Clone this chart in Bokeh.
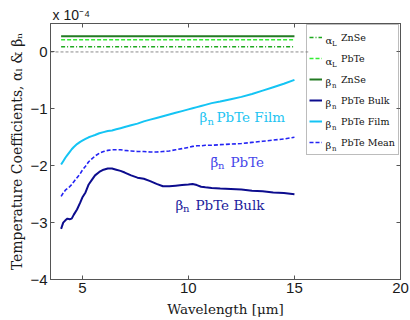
import math
from bokeh.plotting import figure
from bokeh.models import Range1d, LinearAxis, FixedTicker, Span, Legend, LegendItem, Label, BoxAnnotation
from bokeh.embed import file_html
from bokeh.resources import INLINE

# ---------------- data (units of 1e-4 per K) ----------------
wavelength = [4.0, 4.1, 4.2, 4.3, 4.4, 4.5, 4.6, 4.75, 4.9, 5.0, 5.15, 5.3, 5.45, 5.6, 5.8,
              6.0, 6.2, 6.4, 6.6, 6.8, 7.0, 7.3, 7.6, 7.9, 8.2, 8.5, 8.8, 9.1, 9.4, 9.7,
              10.0, 10.2, 10.4, 10.6, 10.8, 11.1, 11.5, 12.0, 12.5, 13.0, 13.5, 14.0, 14.5, 15.0]
beta_bulk = [-3.11, -3.00, -2.96, -2.93, -2.94, -2.93, -2.86, -2.77, -2.65, -2.56, -2.47, -2.33,
             -2.25, -2.17, -2.11, -2.07, -2.05, -2.05, -2.07, -2.09, -2.12, -2.17, -2.21, -2.23,
             -2.27, -2.32, -2.36, -2.36, -2.35, -2.34, -2.33, -2.32, -2.34, -2.37, -2.38, -2.39,
             -2.40, -2.41, -2.42, -2.44, -2.45, -2.47, -2.48, -2.50]
beta_film = [-1.98, -1.92, -1.86, -1.81, -1.76, -1.71, -1.67, -1.62, -1.58, -1.56, -1.53, -1.50,
             -1.48, -1.46, -1.43, -1.41, -1.39, -1.38, -1.36, -1.34, -1.32, -1.29, -1.26, -1.22,
             -1.19, -1.16, -1.13, -1.10, -1.07, -1.04, -1.01, -0.99, -0.97, -0.95, -0.93, -0.90,
             -0.87, -0.83, -0.79, -0.74, -0.68, -0.62, -0.56, -0.49]
beta_mean = [-2.54, -2.48, -2.43, -2.40, -2.37, -2.33, -2.28, -2.21, -2.14, -2.08, -2.01, -1.93,
             -1.88, -1.83, -1.78, -1.75, -1.73, -1.72, -1.72, -1.72, -1.73, -1.74, -1.75, -1.75,
             -1.76, -1.76, -1.75, -1.74, -1.72, -1.70, -1.68, -1.66, -1.65, -1.65, -1.64, -1.64,
             -1.63, -1.62, -1.61, -1.59, -1.57, -1.55, -1.53, -1.50]
const_wavelength = [4.0, 15.0]
alpha_znse = [0.09, 0.09]
alpha_pbte = [0.215, 0.215]
beta_znse = [0.277, 0.277]

x_ticks = [5, 10, 15, 20]
y_ticks = [-4, -3, -2, -1, 0]

legend_names = ["ZnSe", "PbTe", "ZnSe", "PbTe Bulk", "PbTe Film", "PbTe Mean"]
legend_greek = ["\u03b1", "\u03b1", "\u03b2", "\u03b2", "\u03b2", "\u03b2"]
legend_subs = ["L", "L", "n", "n", "n", "n"]

# ---------------- layout ----------------
X0, X1, Y0, Y1 = 3.5, 20.0, -4.0, 0.5
FL, FT, FW, FH = 50, 23, 350, 256


def px2x(px):
    return X0 + (px - FL) * (X1 - X0) / FW


def py2y(py):
    return Y1 - (py - FT) * (Y1 - Y0) / FH


AX = "#555555"
SERIF = "DejaVu Serif"
SANS = "Liberation Sans"

p = figure(width=410, height=320, output_backend="svg", toolbar_location=None,
           x_range=Range1d(X0, X1), y_range=Range1d(Y0, Y1),
           min_border_left=FL, min_border_right=410 - FL - FW, min_border_top=FT,
           min_border_bottom=320 - FT - FH, background_fill_color="white",
           border_fill_color="white")
p.xgrid.visible = False
p.ygrid.visible = False
p.outline_line_color = AX

p.title.text = "x 10\u207b\u2074"
p.title.text_font = SANS
p.title.text_font_size = "14px"
p.title.text_font_style = "normal"
p.title.text_color = "#1a1a1a"
p.title.align = "left"
p.title.offset = 2
p.title.standoff = 2


def style_axis(ax, ticks, show_labels):
    ax.ticker = FixedTicker(ticks=ticks)
    ax.major_tick_in = 4
    ax.major_tick_out = 0
    ax.minor_tick_line_color = None
    ax.axis_line_color = AX
    ax.major_tick_line_color = AX
    ax.major_label_text_font = SANS
    if show_labels:
        ax.major_label_text_color = "#1a1a1a"
        ax.major_label_text_font_size = "15px"
        ax.major_label_standoff = 3
    else:
        ax.major_label_text_color = None
        ax.major_label_text_font_size = "1px"
        ax.major_label_standoff = 0


style_axis(p.xaxis[0], x_ticks, True)
style_axis(p.yaxis[0], y_ticks, True)
p.xaxis.axis_label = "Wavelength [\u03bcm]"
p.xaxis.axis_label_text_font = SERIF
p.xaxis.axis_label_text_font_size = "13.5px"
p.xaxis.axis_label_text_font_style = "normal"
p.xaxis.axis_label_text_color = "#1a1a1a"
p.xaxis.axis_label_standoff = 5

p.yaxis.axis_label = "Temperature Coefficients, \u03b1\u2097 & \u03b2\u2099"
p.yaxis.axis_label_text_font = SERIF
p.yaxis.axis_label_text_font_size = "14px"
p.yaxis.axis_label_text_font_style = "normal"
p.yaxis.axis_label_text_color = "#1a1a1a"
p.yaxis.axis_label_standoff = 2

top_ax = LinearAxis()
right_ax = LinearAxis()
style_axis(top_ax, x_ticks, False)
style_axis(right_ax, y_ticks, False)
p.add_layout(top_ax, "above")
p.add_layout(right_ax, "right")

p.add_layout(Span(location=0, dimension="width", line_color="#8c8c8c",
                  line_dash="3 2", line_width=1, level="underlay"))
# white panel behind the (transparent) legend box
p.add_layout(BoxAnnotation(left=px2x(308), right=px2x(399), top=py2y(24), bottom=py2y(153),
                           fill_color="white", fill_alpha=1, line_color=None, level="underlay"))

r_az = p.line(const_wavelength, alpha_znse, line_color="#1fa81f", line_width=1.5, line_dash="4 2 1 2")
r_ap = p.line(const_wavelength, alpha_pbte, line_color="#33ee33", line_width=1.5, line_dash="4 2")
r_bz = p.line(const_wavelength, beta_znse, line_color="#237a23", line_width=2)
r_bulk = p.line(wavelength, beta_bulk, line_color="#0c0c8e", line_width=2)
r_film = p.line(wavelength, beta_film, line_color="#14c4f4", line_width=2)
r_mean = p.line(wavelength, beta_mean, line_color="#2424f4", line_width=1.6, line_dash="4 2")

renderers = [r_az, r_ap, r_bz, r_bulk, r_film, r_mean]
legend = Legend(items=[LegendItem(label=n, renderers=[r]) for n, r in zip(legend_names, renderers)],
                location="top_right", margin=1, padding=2, spacing=1,
                glyph_width=13, glyph_height=20, label_height=20, label_width=55,
                label_standoff=19, label_text_font=SERIF, label_text_font_size="9.5px",
                label_text_color="#111111", border_line_color="#7a7a7a",
                border_line_width=1, background_fill_alpha=0)
p.add_layout(legend)

# greek letters + subscripts inside legend
for i, (g, s) in enumerate(zip(legend_greek, legend_subs)):
    cy = 36 + i * 21
    p.add_layout(Label(x=px2x(325), y=py2y(cy + 3.5), text=g, text_font=SERIF,
                       text_font_size="10px", text_color="#111111", text_baseline="alphabetic"))
    p.add_layout(Label(x=px2x(331.5), y=py2y(cy + 7), text=s, text_font=SERIF,
                       text_font_size="7px", text_color="#111111", text_baseline="alphabetic"))


# in-plot annotations
def annot(x, y, greek, rest, color, n_off, rest_off):
    kw = dict(text_font=SERIF, text_color=color, text_baseline="alphabetic")
    p.add_layout(Label(x=x, y=y, text=greek, text_font_size="13.5px", **kw))
    p.add_layout(Label(x=x, y=y, x_offset=n_off, y_offset=-4, text="n", text_font_size="10px", **kw))
    p.add_layout(Label(x=x, y=y, x_offset=rest_off, text=rest, text_font_size="13.5px", **kw))


annot(10.52, -1.152, "\u03b2", "PbTe Film", "#22c4f2", 8, 17)
annot(11.04, -1.926, "\u03b2\u0304", "PbTe", "#4646ea", 7.5, 20)
annot(9.39, -2.682, "\u03b2", "PbTe Bulk", "#1c1c9c", 7.5, 20)

open("out.html", "w").write(file_html(p, INLINE))
